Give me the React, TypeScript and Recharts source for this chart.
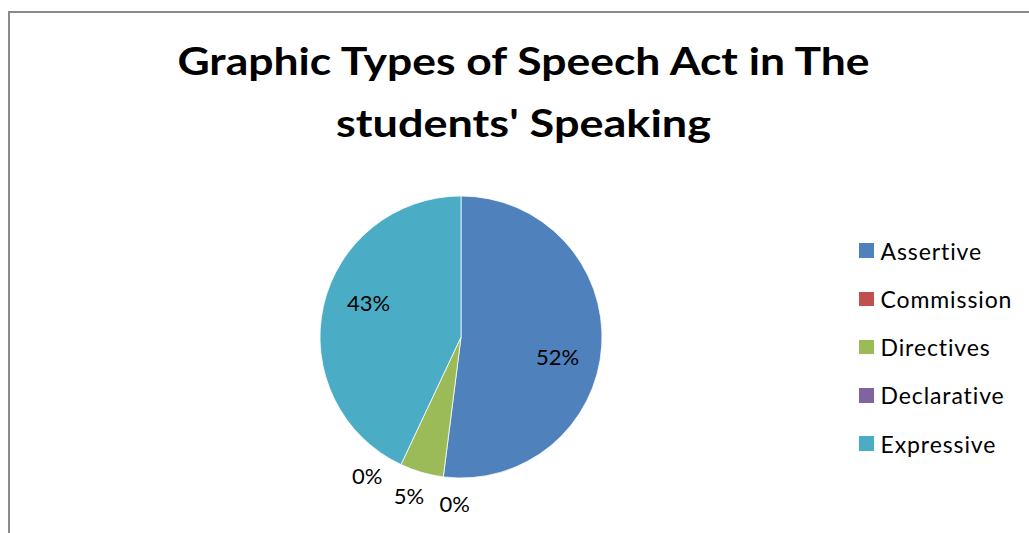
import React from 'react';
import { PieChart, Pie, Cell, Legend } from 'recharts';

const categories = ['Assertive', 'Commission', 'Directives', 'Declarative', 'Expressive'];
const shares = [52, 0, 5, 0, 43];
const COLORS = ['#4F81BD', '#C0504D', '#9BBB59', '#8064A2', '#4BACC6'];

const titleLines = ['Graphic Types of Speech Act in The', "students' Speaking"];

const data = categories.map((name, i) => ({ name, value: shares[i] }));

const FONT = 'Lato, "Open Sans", sans-serif';

// label angles (degrees clockwise from 12 o'clock); small slices are spread apart like Excel does
const total = shares.reduce((a, b) => a + b, 0);
const isSmall = shares.map((v) => v / total < 0.1);
const labelAngles = (() => {
  let acc = 0;
  const mids = shares.map((v) => {
    const m = ((acc + v / 2) / total) * 360;
    acc += v;
    return m;
  });
  const out = mids.map((m, i) => (isSmall[i] ? m : m + 8));
  let i = 0;
  while (i < mids.length) {
    if (!isSmall[i]) { i++; continue; }
    let j = i;
    while (j + 1 < mids.length && isSmall[j + 1]) j++;
    const group = mids.slice(i, j + 1);
    const mean = group.reduce((a, b) => a + b, 0) / group.length;
    const n = group.length;
    for (let k = 0; k < n; k++) out[i + k] = mean + 2 + (k - (n - 1) / 2) * 16;
    i = j + 1;
  }
  return out;
})();

const renderLabel = (props: any) => {
  const { cx, cy, outerRadius, index } = props;
  const a = (labelAngles[index] * Math.PI) / 180;
  const r = isSmall[index] ? outerRadius + 26 : outerRadius * 0.7;
  const x = cx + r * Math.sin(a);
  const y = cy - r * Math.cos(a);
  return (
    <text x={x} y={y} fill="#000" fontSize={22} fontFamily={FONT} textAnchor="middle" dominantBaseline="central">
      {`${shares[index]}%`}
    </text>
  );
};

const LegendContent = () => (
  <div style={{ fontFamily: FONT, fontSize: 23, letterSpacing: 0.9, color: '#000' }}>
    {categories.map((c, i) => (
      <div key={c} style={{ display: 'flex', alignItems: 'center', height: 48.25 }}>
        <span style={{ width: 14.5, height: 14.5, background: COLORS[i], marginRight: 7, display: 'inline-block' }} />
        <span>{c}</span>
      </div>
    ))}
  </div>
);

export default function App() {
  return (
    <div style={{ position: 'relative', width: 1029, height: 533, overflow: 'hidden', background: '#fff' }}>
      <style>{`body{margin:0;overflow:hidden}`}</style>
      <div
        style={{
          position: 'absolute',
          left: 8,
          top: 11,
          width: 1040,
          height: 540,
          borderTop: '2px solid #8a8a8a',
          borderLeft: '2px solid #8a8a8a',
        }}
      />
      <svg width={1029} height={160} style={{ position: 'absolute', left: 0, top: 0 }}>
        {titleLines.map((t, i) => (
          <text
            key={t}
            x={0}
            y={75 + i * 62}
            transform={`translate(523.5,0) scale(${i === 0 ? 1.17 : 1.185},1)`}
            textAnchor="middle"
            fontFamily={FONT}
            fontWeight={700}
            fontSize={38}
            fill="#000"
          >
            {t}
          </text>
        ))}
      </svg>
      <div style={{ position: 'absolute', left: 0, top: 0 }}>
        <PieChart width={1029} height={533} margin={{ top: 0, right: 0, bottom: 0, left: 0 }}>
          <Pie
            data={data}
            dataKey="value"
            nameKey="name"
            cx={461}
            cy={337}
            outerRadius={141}
            startAngle={90}
            endAngle={-270}
            stroke="#ffffff"
            strokeWidth={0.75}
            label={renderLabel}
            labelLine={false}
            isAnimationActive={false}
          >
            {data.map((d, i) => (
              <Cell key={d.name} fill={COLORS[i]} />
            ))}
          </Pie>
          <Legend
            content={<LegendContent />}
            wrapperStyle={{ position: 'absolute', left: 859, top: 226.5, width: 170 }}
          />
        </PieChart>
      </div>
    </div>
  );
}
